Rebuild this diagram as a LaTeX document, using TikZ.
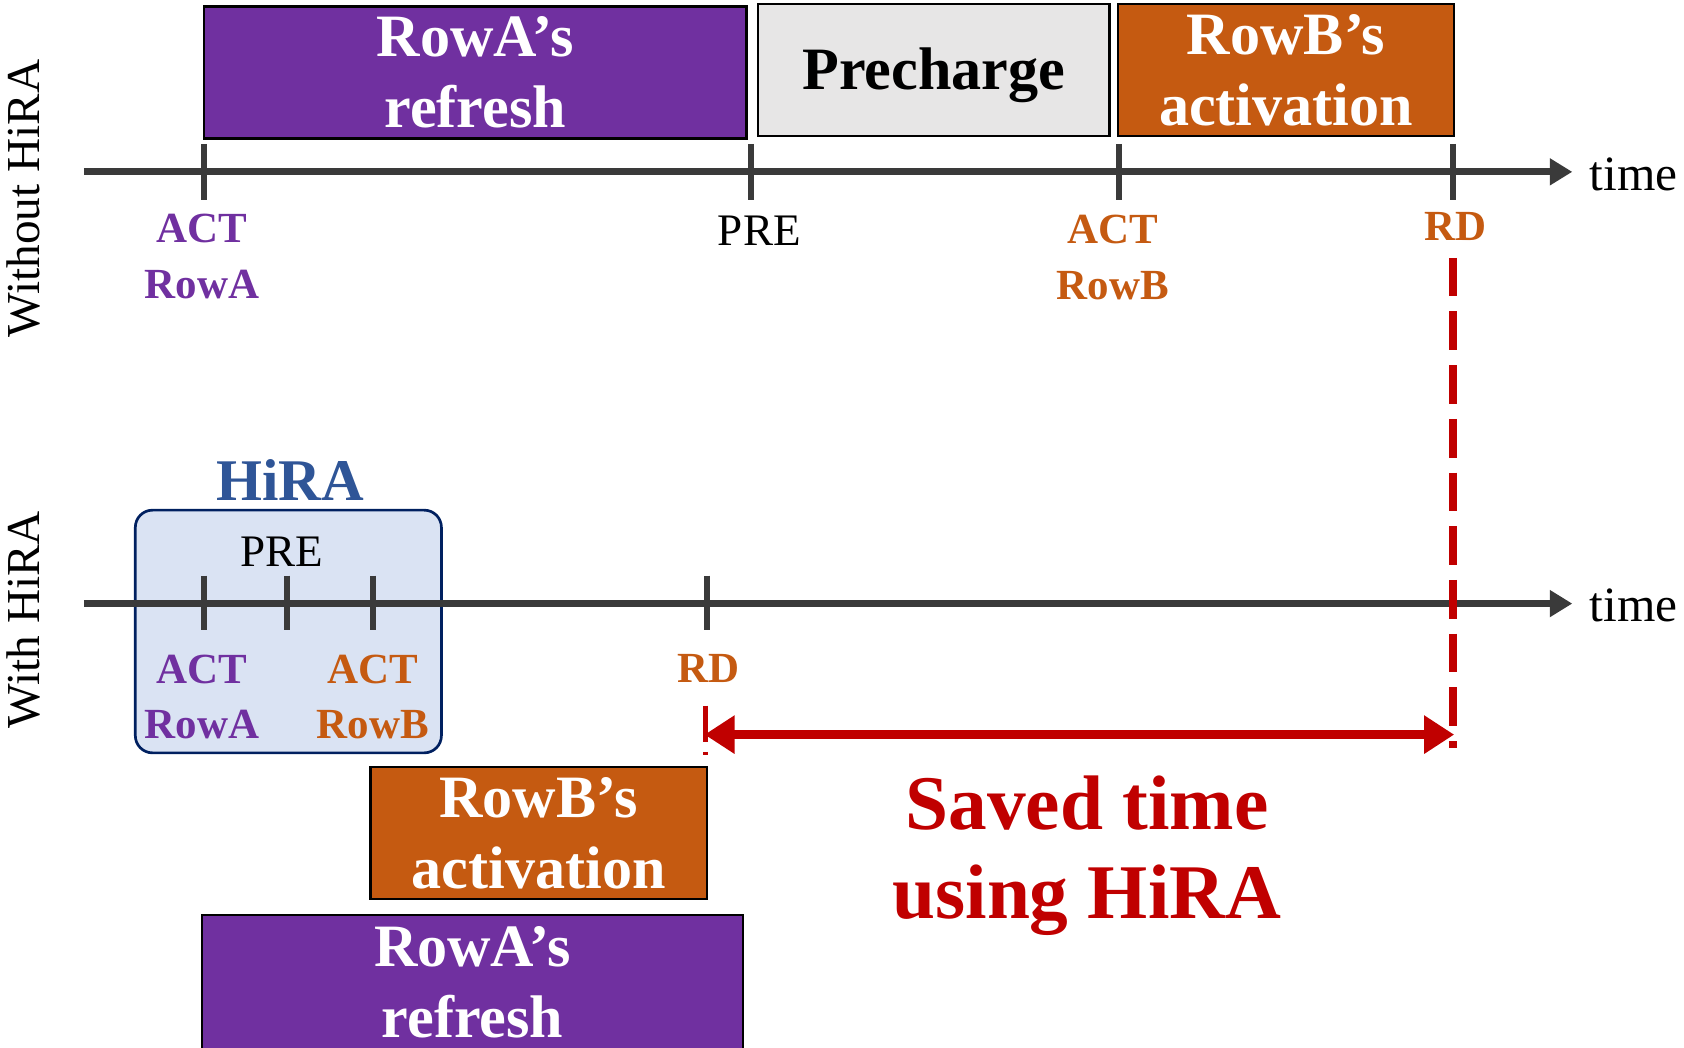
\documentclass[tikz,border=0pt]{standalone}
\usepackage{fontspec}
\setmainfont{Liberation Serif}
\usetikzlibrary{arrows.meta}

\definecolor{rowa}{HTML}{7030A0}
\definecolor{rowb}{HTML}{C55A11}
\definecolor{pregray}{HTML}{E7E6E6}
\definecolor{axisgray}{HTML}{3A3A3A}
\definecolor{savedred}{HTML}{C00000}
\definecolor{hirablue}{HTML}{2F5597}
\definecolor{hirafill}{HTML}{DAE3F3}
\definecolor{hiraline}{HTML}{002060}

\begin{document}
\begin{tikzpicture}[x=1pt,y=-1pt,
 phase/.style={draw=black,line width=2pt,inner sep=0pt,align=center,text=white,font=\fontsize{56}{66}\selectfont\bfseries},
 cmd/.style={align=center,inner sep=0pt,font=\fontsize{40}{52}\selectfont\bfseries},
 plain/.style={inner sep=0pt,font=\fontsize{42}{50}\selectfont},
 side/.style={rotate=90,inner sep=0pt,font=\fontsize{44}{50}\selectfont},
 timeline/.style={draw=axisgray,line width=6.5pt,-{Triangle[length=21pt,width=24pt]}},
 tick/.style={draw=axisgray,line width=5.5pt},
 saved/.style={draw=savedred,line width=8pt,dash pattern=on 36pt off 14pt}]

 \clip (0,0) rectangle (1568,975);

 \node[side] (without) at (22,185) {Without HiRA};

 \node[side] (with) at (22,577) {With HiRA};

 \node[phase,fill=rowa,minimum width=505pt,minimum height=123pt] (refA) at (442.5,67.5) {RowA's\\refresh};

 \node[phase,fill=pregray,text=black,minimum width=327pt,minimum height=123pt,text height=48pt,text depth=12pt] (pre) at (869.5,65.5) {Precharge};

 \node[phase,fill=rowb,minimum width=313pt,minimum height=123pt] (actB) at (1197.5,65.5) {RowB's\\activation};

 \coordinate (t1s) at (78,160);
 \coordinate (t1e) at (1464,160);
 \node[plain,anchor=west,font=\fontsize{46}{50}\selectfont] (time1) at (1480,162) {time};

 \draw[timeline] (t1s) -- (t1e);
 \draw[tick] (190,134) -- ++(0,52);
 \draw[tick] (699,134) -- ++(0,52);
 \draw[tick] (1042,134) -- ++(0,52);
 \draw[tick] (1353,134) -- ++(0,52);

 \node[cmd,text=rowa] (actA1) at (188,239) {ACT\\RowA};

 \node[plain] (pre1) at (707,215) {PRE};

 \node[cmd,text=rowb] (actB1) at (1036,240) {ACT\\RowB};

 \node[cmd,text=rowb] (rd1) at (1355,211) {RD};

 \node[draw=hiraline,line width=2.5pt,fill=hirafill,rounded corners=16pt,minimum width=285pt,minimum height=226pt] (hira) at (268.5,588) {};

 \node[inner sep=0pt,text=hirablue,font=\fontsize{55}{60}\selectfont\bfseries] (hiralbl) at (270,447) {HiRA};

 \coordinate (t2s) at (78,562);
 \coordinate (t2e) at (1464,562);
 \node[plain,anchor=west,font=\fontsize{46}{50}\selectfont] (time2) at (1480,564) {time};

 \draw[timeline] (t2s) -- (t2e);
 \draw[tick] (190,536) -- ++(0,51);
 \draw[tick] (267,536) -- ++(0,51);
 \draw[tick] (347,536) -- ++(0,51);
 \draw[tick] (658,536) -- ++(0,51);

 \node[plain] (pre2) at (262,514) {PRE};

 \node[cmd,text=rowa] (actA2) at (188,649) {ACT\\RowA};

 \node[cmd,text=rowb] (actB2) at (347,649) {ACT\\RowB};

 \node[cmd,text=rowb] (rd2) at (660,622) {RD};

 \coordinate (rdtop) at (1353,240);
 \coordinate (rdbot) at (1353,696);
 \draw[saved] (rdtop) -- (rdbot);

 \coordinate (rdhtop) at (657,657);
 \coordinate (rdhbot) at (657,703);
 \draw[saved,line width=5pt,dash pattern=on 34pt off 9pt] (rdhtop) -- (rdhbot);

 \coordinate (gainl) at (656,684);
 \coordinate (gainr) at (1354,684);
 \draw[draw=savedred,line width=9pt,{Triangle[length=28pt,width=34pt]}-{Triangle[length=28pt,width=34pt]}] (gainl) -- (gainr);

 \node[align=center,inner sep=0pt,text=savedred,font=\fontsize{72}{83}\selectfont\bfseries] (gain) at (1012,797) {Saved time\\using HiRA};

 \node[phase,fill=rowb,minimum width=313pt,minimum height=123pt] (actB2box) at (501.5,775.5) {RowB's\\activation};

 \node[phase,fill=rowa,minimum width=504pt,minimum height=126pt] (refA2) at (440,915) {RowA's\\refresh};

\end{tikzpicture}
\end{document}
